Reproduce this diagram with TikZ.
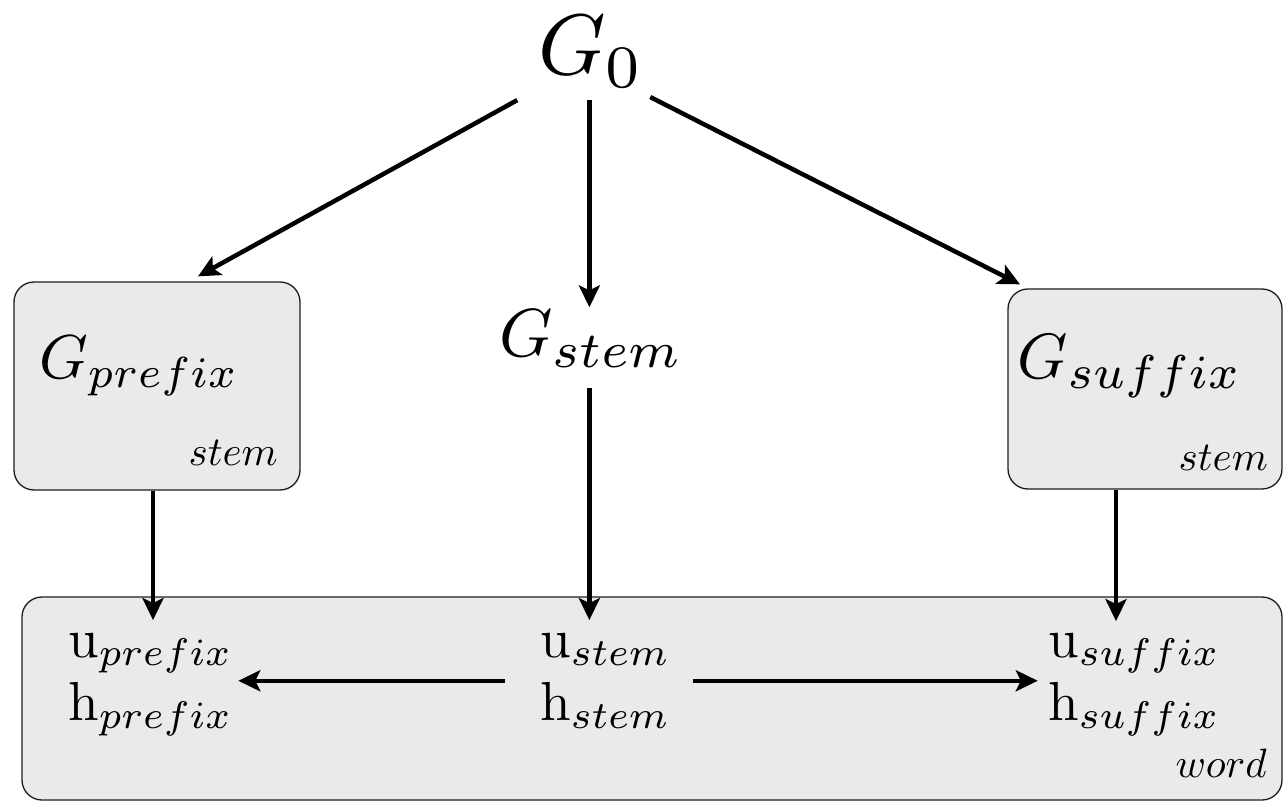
\documentclass[tikz,border=0pt]{standalone}
\usepackage{graphicx}
\usetikzlibrary{arrows.meta,fit}
\definecolor{boxgray}{RGB}{234,234,234}
\definecolor{boxline}{RGB}{30,30,30}
\newcommand{\bigsub}[1]{\scalebox{1.06}{$\scriptstyle #1$}}
\begin{document}
\begin{tikzpicture}[x=1pt,y=-1pt,
  arr/.style={line width=4.5pt,-{Stealth[length=22pt,width=21pt,inset=5pt]}},
  gbox/.style={draw=boxline,line width=1.3pt,fill=boxgray,rounded corners=20pt,inner sep=0pt},
  lbl/.style={inner sep=0pt,anchor=base west},
  lble/.style={inner sep=0pt,anchor=base east},
  grp/.style={inner sep=0pt}]
\useasboundingbox (0,0) rectangle (1283,802);
% boxes
\node[gbox,minimum width=286pt,minimum height=208pt] (pbox) at (157,386) {};
\node[gbox,minimum width=274pt,minimum height=200pt] (sbox) at (1145,389) {};
\node[gbox,minimum width=1260pt,minimum height=203pt] (wbox) at (652,698.5) {};
% upper texts
\node[lbl] (G0) at (538,75) {\scalebox{8.6}{$G_0$}};
\node[lbl] (Gp) at (39,378) {\scalebox{6.2}{$G_{prefix}$}};
\node[lbl] (Gs) at (499,357) {\scalebox{6.8}{$G_{\bigsub{stem}}$}};
\node[lbl] (Gx) at (1017,378) {\scalebox{6.4}{$G_{\bigsub{suffix}}$}};
\node[lble] (ps) at (278,465) {\scalebox{4.1}{$stem$}};
\node[lble] (xs) at (1268,470) {\scalebox{4.1}{$stem$}};
\node[lble] (ww) at (1267,777) {\scalebox{4.1}{$word$}};
% lower texts
\node[lbl] (up) at (68,657) {\scalebox{5.5}{$\mathrm{u}_{prefix}$}};
\node[lbl] (hp) at (68,720) {\scalebox{5.5}{$\mathrm{h}_{prefix}$}};
\node[lbl] (us) at (540,657) {\scalebox{5.5}{$\mathrm{u}_{stem}$}};
\node[lbl] (hs) at (540,720) {\scalebox{5.5}{$\mathrm{h}_{stem}$}};
\node[lbl] (ux) at (1048,657) {\scalebox{5.5}{$\mathrm{u}_{suffix}$}};
\node[lbl] (hx) at (1048,720) {\scalebox{5.5}{$\mathrm{h}_{suffix}$}};
\node[grp,fit=(up)(hp)] (pg) {};
\node[grp,fit=(us)(hs)] (sg) {};
\node[grp,fit=(ux)(hx)] (xg) {};
% arrows from G0
\draw[arr] ([xshift=-74pt,yshift=-12pt]G0.south) -- ([xshift=41pt,yshift=5pt]pbox.north);
\draw[arr] ([xshift=-2pt,yshift=-12pt]G0.south -| Gs.north) -- ([xshift=-2pt,yshift=3pt]Gs.north);
\draw[arr] ([xshift=59pt,yshift=-9pt]G0.south) -- ([xshift=-125pt,yshift=4pt]sbox.north);
% vertical arrows into word box
\draw[arr,shorten >=13pt] ([xshift=-4pt]pbox.south) -- ([xshift=-4pt]pbox.south |- up.north);
\draw[arr,shorten <=21pt,shorten >=13pt] ([xshift=-2pt]Gs.south) -- ([xshift=-2pt]Gs.south |- us.north);
\draw[arr,shorten >=12pt] ([xshift=-29pt]sbox.south) -- ([xshift=-29pt]sbox.south |- ux.north);
% horizontal arrows
\draw[arr,shorten <=35pt,shorten >=5pt] (sg.west) -- (sg.west -| pg.east);
\draw[arr,shorten <=22pt,shorten >=10pt] (sg.east) -- (sg.east -| xg.west);
\end{tikzpicture}
\end{document}
